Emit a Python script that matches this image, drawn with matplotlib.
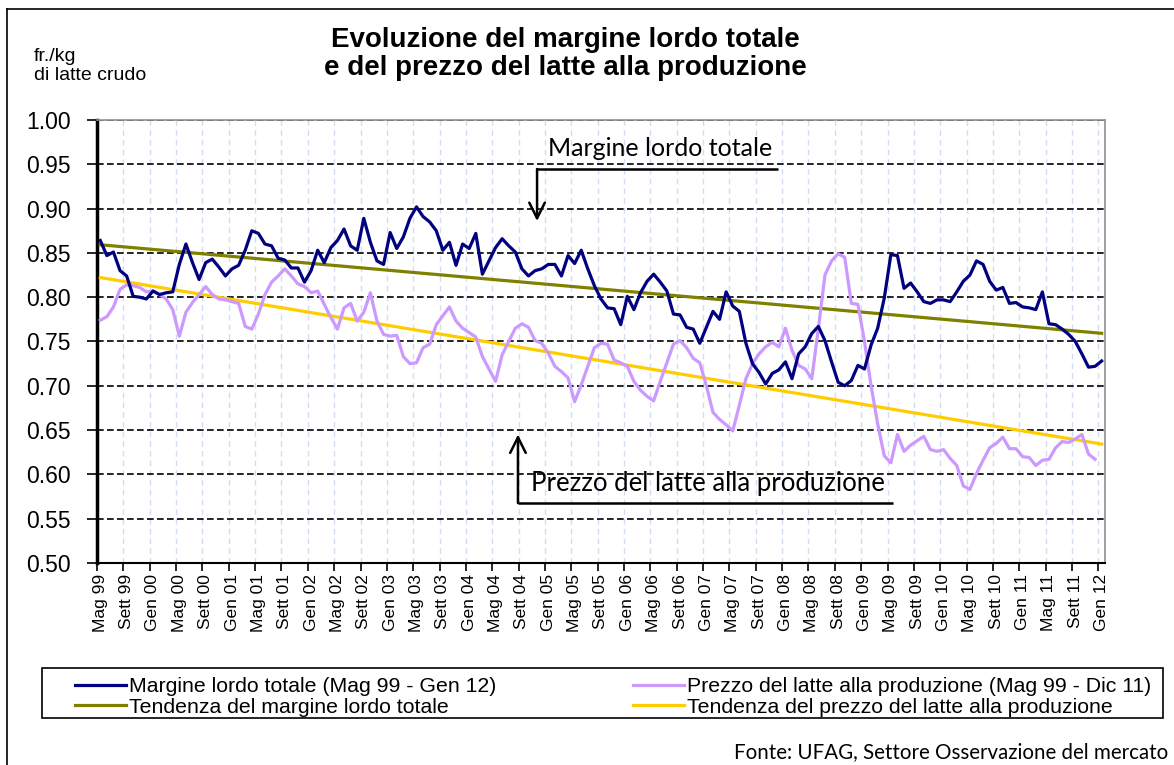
import numpy as np
import matplotlib.pyplot as plt
from matplotlib.lines import Line2D
from matplotlib.patches import Rectangle

# Margine lordo totale, mensile Mag 99 - Gen 12 (fr./kg)
margine = [
    0.864, 0.847, 0.851, 0.830, 0.824, 0.801, 0.800, 0.798, 0.807, 0.803,
    0.805, 0.806, 0.837, 0.860, 0.839, 0.820, 0.839, 0.843, 0.834, 0.824,
    0.832, 0.836, 0.853, 0.875, 0.872, 0.860, 0.858, 0.844, 0.842, 0.833,
    0.833, 0.817, 0.830, 0.853, 0.839, 0.856, 0.864, 0.877, 0.858, 0.853,
    0.889, 0.862, 0.841, 0.837, 0.873, 0.855, 0.868, 0.889, 0.902, 0.891,
    0.885, 0.875, 0.853, 0.862, 0.836, 0.860, 0.855, 0.872, 0.826, 0.841,
    0.856, 0.866, 0.858, 0.851, 0.832, 0.824, 0.830, 0.832, 0.837, 0.837,
    0.824, 0.847, 0.838, 0.853, 0.832, 0.813, 0.798, 0.788, 0.787, 0.769,
    0.801, 0.786, 0.805, 0.818, 0.826, 0.817, 0.807, 0.781, 0.780, 0.766,
    0.764, 0.748, 0.766, 0.784, 0.775, 0.806, 0.790, 0.784, 0.748, 0.725,
    0.715, 0.702, 0.714, 0.718, 0.727, 0.708, 0.736, 0.744, 0.759, 0.767,
    0.751, 0.727, 0.704, 0.700, 0.706, 0.723, 0.719, 0.746, 0.765, 0.799,
    0.848, 0.847, 0.810, 0.816, 0.806, 0.795, 0.793, 0.797, 0.797, 0.795,
    0.806, 0.818, 0.825, 0.841, 0.837, 0.818, 0.808, 0.811, 0.793, 0.794,
    0.789, 0.788, 0.786, 0.806, 0.770, 0.769, 0.764, 0.758, 0.750, 0.736,
    0.721, 0.722, 0.728,
]

# Prezzo del latte alla produzione, mensile Mag 99 - Dic 11 (fr./kg)
prezzo = [
    0.774, 0.778, 0.789, 0.809, 0.814, 0.813, 0.811, 0.806, 0.807, 0.803,
    0.798, 0.786, 0.756, 0.783, 0.794, 0.803, 0.812, 0.803, 0.798, 0.797,
    0.795, 0.793, 0.767, 0.764, 0.781, 0.803, 0.817, 0.824, 0.832, 0.824,
    0.815, 0.812, 0.805, 0.807, 0.792, 0.777, 0.764, 0.788, 0.793, 0.773,
    0.783, 0.805, 0.773, 0.758, 0.756, 0.757, 0.733, 0.725, 0.726, 0.743,
    0.747, 0.769, 0.779, 0.789, 0.773, 0.765, 0.760, 0.755, 0.733, 0.719,
    0.705, 0.735, 0.750, 0.765, 0.770, 0.766, 0.751, 0.748, 0.737, 0.722,
    0.716, 0.709, 0.682, 0.701, 0.722, 0.743, 0.748, 0.747, 0.729, 0.726,
    0.722, 0.705, 0.695, 0.688, 0.683, 0.705, 0.726, 0.747, 0.751, 0.743,
    0.731, 0.726, 0.700, 0.670, 0.662, 0.656, 0.649, 0.678, 0.708, 0.725,
    0.736, 0.744, 0.749, 0.744, 0.765, 0.740, 0.723, 0.719, 0.708, 0.765,
    0.825, 0.841, 0.849, 0.845, 0.793, 0.792, 0.750, 0.700, 0.657, 0.621,
    0.613, 0.645, 0.626, 0.633, 0.638, 0.643, 0.628, 0.626, 0.628, 0.618,
    0.610, 0.587, 0.583, 0.601, 0.616, 0.630, 0.635, 0.642, 0.629, 0.629,
    0.620, 0.619, 0.610, 0.616, 0.617, 0.630, 0.637, 0.636, 0.640, 0.645,
    0.623, 0.617,
]

etichette = [
    "Mag 99", "Sett 99", "Gen 00", "Mag 00", "Sett 00", "Gen 01", "Mag 01",
    "Sett 01", "Gen 02", "Mag 02", "Sett 02", "Gen 03", "Mag 03", "Sett 03",
    "Gen 04", "Mag 04", "Sett 04", "Gen 05", "Mag 05", "Sett 05", "Gen 06",
    "Mag 06", "Sett 06", "Gen 07", "Mag 07", "Sett 07", "Gen 08", "Mag 08",
    "Sett 08", "Gen 09", "Mag 09", "Sett 09", "Gen 10", "Mag 10", "Sett 10",
    "Gen 11", "Mag 11", "Sett 11", "Gen 12",
]

x_m = np.arange(len(margine))
x_p = np.arange(len(prezzo))

# tendenze lineari (minimi quadrati)
c_m = np.polyfit(x_m, margine, 1)
c_p = np.polyfit(x_p, prezzo, 1)
x_t = np.array([0, len(margine) - 1])

fig = plt.figure(figsize=(11.74, 7.65), dpi=100)
ax = fig.add_axes([0.0826, 0.2641, 0.8586, 0.579])

l1, = ax.plot(x_m, margine, color="#000080", lw=2.3, zorder=5)
l3, = ax.plot(x_p, prezzo, color="#cc99ff", lw=2.3, zorder=4)
l2, = ax.plot(x_t, np.polyval(c_m, x_t), color="#808000", lw=2.3, zorder=3)
l4, = ax.plot(x_t, np.polyval(c_p, x_t), color="#ffcc00", lw=2.3, zorder=3)

ax.set_xlim(-0.5, len(margine) - 0.5)
ax.set_ylim(0.5, 1.0)
ax.set_yticks(np.arange(0.5, 1.001, 0.05))
ax.set_yticklabels(["%.2f" % v for v in np.arange(0.5, 1.001, 0.05)],
                   fontsize=16.5, family="Liberation Sans")
ax.set_xticks(np.arange(0, len(margine), 4))
ax.set_xticklabels(etichette, rotation=90, fontsize=12.5, family="Liberation Sans")
ax.set_xticks(np.arange(-0.5, len(margine), 4), minor=True)
ax.tick_params(axis="x", which="major", length=0, pad=8)
ax.tick_params(axis="x", which="minor", length=6, width=1.2, direction="out")
ax.tick_params(axis="y", length=7, width=1.2, direction="out", pad=12)

ax.grid(axis="y", color="black", ls=(0, (4, 2)), lw=1.2)
ax.grid(axis="x", which="minor", color="#d2ddf2", ls=(0, (4, 3)), lw=1.0)
ax.set_axisbelow(True)

ax.spines["left"].set_linewidth(2.5)
ax.spines["bottom"].set_linewidth(1.5)
for s in ("top", "right"):
    ax.spines[s].set_color("#909090")
    ax.spines[s].set_linewidth(1.2)

# annotazioni con frecce
ax.plot([66.3, 102.8], [0.9447, 0.9447], color="black", lw=1.8, solid_capstyle="butt")
ax.annotate("", xy=(66.3, 0.886), xytext=(66.3, 0.9447),
            arrowprops=dict(arrowstyle="->", lw=1.8, mutation_scale=28, color="black",
                            shrinkA=0, shrinkB=0))
ax.text(85.0, 0.968, "Margine lordo totale", ha="center", va="center",
        fontsize=18, family="Lato")

ax.plot([63.4, 120.3], [0.5677, 0.5677], color="black", lw=1.8, solid_capstyle="butt")
ax.annotate("", xy=(63.4, 0.645), xytext=(63.4, 0.5677),
            arrowprops=dict(arrowstyle="->", lw=1.8, mutation_scale=28, color="black",
                            shrinkA=0, shrinkB=0))
ax.text(92.2, 0.590, "Prezzo del latte alla produzione", ha="center", va="center",
        fontsize=18.5, family="Lato")

fig.text(0.482, 0.929, "Evoluzione del margine lordo totale\ne del prezzo del latte alla produzione",
         ha="center", va="center", fontsize=20, fontweight="bold",
         family="Liberation Sans", linespacing=1.1)
fig.text(0.029, 0.914, "fr./kg\ndi latte crudo", ha="left", va="center",
         fontsize=14, family="Liberation Sans", linespacing=1.15)

# legenda senza cornice + riquadro separato
leg = fig.legend([l1, l2, l3, l4],
                 ["Margine lordo totale (Mag 99 - Gen 12)",
                  "Tendenza del margine lordo totale",
                  "Prezzo del latte alla produzione (Mag 99 - Dic 11)",
                  "Tendenza del prezzo del latte alla produzione"],
                 ncol=2, loc="center", mode="expand",
                 bbox_to_anchor=(64 / 1174, 1 - 722 / 765, 1098 / 1174, 50 / 765),
                 bbox_transform=fig.transFigure,
                 prop={"family": "Liberation Sans", "size": 15.3},
                 handlelength=2.4, handletextpad=0.15, labelspacing=0.05,
                 borderpad=0.0, frameon=False)
fig.add_artist(Rectangle((42 / 1174, 1 - 718 / 765), 1121 / 1174, 50 / 765,
                         transform=fig.transFigure, fill=False, ec="black", lw=1.2))

fig.text(0.995, 1 - 752 / 765, "Fonte: UFAG, Settore Osservazione del mercato",
         ha="right", va="center", fontsize=14.8, family="Lato")

# cornice esterna
fig.add_artist(Line2D([7 / 1174, 7 / 1174], [0, 1 - 9 / 765], transform=fig.transFigure,
                      color="black", lw=1.2))
fig.add_artist(Line2D([7 / 1174, 1], [1 - 9 / 765, 1 - 9 / 765], transform=fig.transFigure,
                      color="black", lw=1.2))

fig.savefig("out.png", dpi=100)
